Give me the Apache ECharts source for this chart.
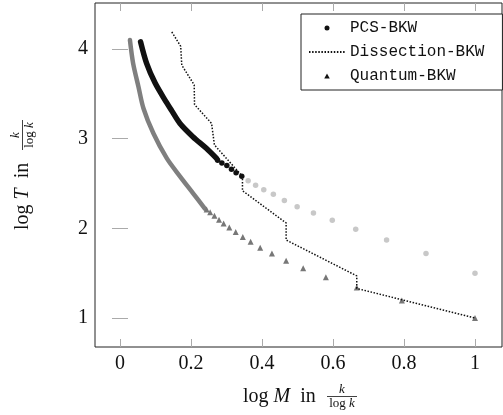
<!DOCTYPE html>
<html>
<head>
<meta charset="utf-8">
<script src="https://cdn.jsdelivr.net/npm/echarts@6.0.0/dist/echarts.min.js"></script>
<style>
  html, body { margin: 0; padding: 0; background: #fff; }
  #main { width: 503px; height: 415px; }
</style>
</head>
<body>
<div id="main"></div>
<script>
// tick labels
var xTicks = [0, 0.2, 0.4, 0.6, 0.8, 1];
var yTicks = [1, 2, 3, 4];

// PCS-BKW: dense part (drawn as thick stroke) and the separated dots
var pcsDenseX = [0.058, 0.075, 0.099, 0.130, 0.146, 0.169, 0.206, 0.244, 0.272];
var pcsDenseY = [4.08, 3.84, 3.62, 3.41, 3.31, 3.17, 3.02, 2.89, 2.78];
var pcsX = [0.275, 0.287, 0.301, 0.314, 0.327, 0.343];
var pcsY = [2.76, 2.73, 2.70, 2.66, 2.62, 2.58];
// light grey continuation of the PCS curve
var pcsLightX = [0.361, 0.382, 0.405, 0.432, 0.463, 0.499, 0.545, 0.598, 0.664, 0.751, 0.862, 1.0];
var pcsLightY = [2.53, 2.48, 2.43, 2.38, 2.31, 2.24, 2.17, 2.09, 1.99, 1.87, 1.72, 1.50];

// Dissection-BKW step curve
var dissX = [0.146, 0.171, 0.174, 0.209, 0.210, 0.258, 0.266, 0.345, 0.345, 0.468, 0.468, 0.667, 0.667, 1.0];
var dissY = [4.19, 4.03, 3.82, 3.60, 3.38, 3.17, 2.93, 2.58, 2.42, 2.06, 1.87, 1.47, 1.33, 1.0];

// Quantum-BKW: dense part and separated triangles
var qDenseX = [0.028, 0.037, 0.052, 0.066, 0.094, 0.132, 0.169, 0.206, 0.239];
var qDenseY = [4.10, 3.84, 3.58, 3.34, 3.06, 2.78, 2.58, 2.39, 2.22];
var qX = [0.244, 0.254, 0.266, 0.279, 0.292, 0.308, 0.326, 0.346, 0.368, 0.395, 0.428, 0.468, 0.516, 0.580, 0.667, 0.794, 1.0];
var qY = [2.21, 2.18, 2.14, 2.095, 2.055, 2.01, 1.96, 1.905, 1.85, 1.785, 1.72, 1.64, 1.555, 1.455, 1.34, 1.195, 1.0];

function pairs(xs, ys) {
  return xs.map(function (x, i) { return [x, ys[i]]; });
}

var serif = "Liberation Serif";
var mono = "Liberation Mono";
var triIcon = "path://M5,0L10,9L0,9Z";

var chartDom = document.getElementById("main");
var myChart = echarts.init(chartDom, null, { renderer: "canvas" });
var option;

var tickStyle = { color: "#aaa", width: 1 };

option = {
  animation: false,
  backgroundColor: "#fff",
  grid: {
    left: 95, right: 1, top: 3, bottom: 68,
    show: true, borderColor: "#222", borderWidth: 1
  },
  xAxis: [
    {
      type: "value", min: -0.0704, max: 1.0761,
      axisLine: { show: false },
      splitLine: { show: false },
      axisTick: { show: true, inside: true, length: 8, lineStyle: tickStyle, customValues: xTicks },
      axisLabel: {
        customValues: xTicks, margin: 7,
        fontFamily: serif, fontSize: 20, color: "#111",
        formatter: function (v) { return String(v); }
      }
    },
    {
      type: "value", position: "top", min: -0.0704, max: 1.0761,
      axisLine: { show: false },
      splitLine: { show: false },
      axisTick: { show: true, inside: true, length: 8, lineStyle: tickStyle, customValues: xTicks },
      axisLabel: { show: false }
    }
  ],
  yAxis: [
    {
      type: "value", min: 0.677, max: 4.513,
      axisLine: { show: false },
      splitLine: { show: false },
      axisTick: { show: true, inside: true, length: 8, lineStyle: tickStyle, customValues: yTicks },
      axisLabel: {
        customValues: yTicks, margin: 7,
        fontFamily: serif, fontSize: 20, color: "#111"
      }
    },
    {
      type: "value", position: "right", min: 0.677, max: 4.513,
      axisLine: { show: false },
      splitLine: { show: false },
      axisTick: { show: true, inside: true, length: 8, lineStyle: tickStyle, customValues: yTicks },
      axisLabel: { show: false }
    }
  ],
  legend: {
    orient: "vertical",
    left: 301, top: 14,
    padding: [6, 18, 6, 7],
    itemWidth: 36, itemHeight: 5, itemGap: 8,
    backgroundColor: "#fff",
    borderColor: "#222", borderWidth: 1, borderRadius: 0,
    textStyle: { fontFamily: mono, fontSize: 16, color: "#111", lineHeight: 16 },
    data: [
      { name: "PCS-BKW", icon: "circle", itemStyle: { color: "#111", opacity: 1 } },
      { name: "Dissection-BKW", itemStyle: { opacity: 0 } },
      { name: "Quantum-BKW", icon: triIcon, itemStyle: { color: "#111", opacity: 1 } }
    ]
  },
  series: [
    {
      name: "PCS-BKW (cont.)", type: "scatter", symbol: "circle", symbolSize: 5.5,
      itemStyle: { color: "#c8c8c8", opacity: 1 },
      data: pairs(pcsLightX, pcsLightY), z: 2
    },
    {
      name: "Quantum-BKW (dense)", type: "line", showSymbol: false, smooth: 0.3,
      lineStyle: { color: "#7f7f7f", width: 4.5, cap: "round", join: "round" },
      data: pairs(qDenseX, qDenseY), z: 3
    },
    {
      name: "Quantum-BKW", type: "scatter", symbol: "triangle", symbolSize: 6,
      itemStyle: { color: "#777", opacity: 1 },
      data: pairs(qX, qY), z: 4
    },
    {
      name: "Dissection-BKW", type: "line", symbol: "none",
      lineStyle: { color: "#111", width: 1.5, type: [1.5, 1.6] },
      itemStyle: { color: "#111" },
      data: pairs(dissX, dissY), z: 5
    },
    {
      name: "PCS-BKW (dense)", type: "line", showSymbol: false, smooth: 0.3,
      lineStyle: { color: "#111", width: 5.5, cap: "round", join: "round" },
      data: pairs(pcsDenseX, pcsDenseY), z: 6
    },
    {
      name: "PCS-BKW", type: "scatter", symbol: "circle", symbolSize: 5.5,
      itemStyle: { color: "#111", opacity: 1 },
      data: pairs(pcsX, pcsY), z: 7
    }
  ],
  graphic: [
    // x axis title: log M in k / log k
    {
      type: "group", x: 243, y: 397,
      children: [
        { type: "text", x: 0, y: 0, style: {
            text: "{a|log }{b|M}{a|  in}", verticalAlign: "middle", align: "left", fill: "#111",
            rich: { a: { fontFamily: serif, fontSize: 20 }, b: { fontFamily: serif, fontSize: 20, fontStyle: "italic" } }
        } },
        { type: "text", x: 99, y: -7, style: { text: "k", fontFamily: serif, fontSize: 13, fontStyle: "italic", fill: "#111", align: "center", verticalAlign: "middle" } },
        { type: "line", shape: { x1: 84, y1: -0.5, x2: 114, y2: -0.5 }, style: { stroke: "#111", lineWidth: 0.8 } },
        { type: "text", x: 99, y: 7, style: {
            text: "{a|log }{b|k}", align: "center", verticalAlign: "middle", fill: "#111",
            rich: { a: { fontFamily: serif, fontSize: 13 }, b: { fontFamily: serif, fontSize: 13, fontStyle: "italic" } }
        } }
      ]
    },
    // y axis title: log T in k / log k (rotated)
    {
      type: "group", x: 23, y: 230, rotation: Math.PI / 2,
      children: [
        { type: "text", x: 0, y: 0, style: {
            text: "{a|log }{b|T}{a|  in}", verticalAlign: "middle", align: "left", fill: "#111",
            rich: { a: { fontFamily: serif, fontSize: 20 }, b: { fontFamily: serif, fontSize: 20, fontStyle: "italic" } }
        } },
        { type: "text", x: 95, y: -7, style: { text: "k", fontFamily: serif, fontSize: 13, fontStyle: "italic", fill: "#111", align: "center", verticalAlign: "middle" } },
        { type: "line", shape: { x1: 80, y1: -0.5, x2: 110, y2: -0.5 }, style: { stroke: "#111", lineWidth: 0.8 } },
        { type: "text", x: 95, y: 7, style: {
            text: "{a|log }{b|k}", align: "center", verticalAlign: "middle", fill: "#111",
            rich: { a: { fontFamily: serif, fontSize: 13 }, b: { fontFamily: serif, fontSize: 13, fontStyle: "italic" } }
        } }
      ]
    }
  ]
};

option && myChart.setOption(option);
</script>
</body>
</html>
